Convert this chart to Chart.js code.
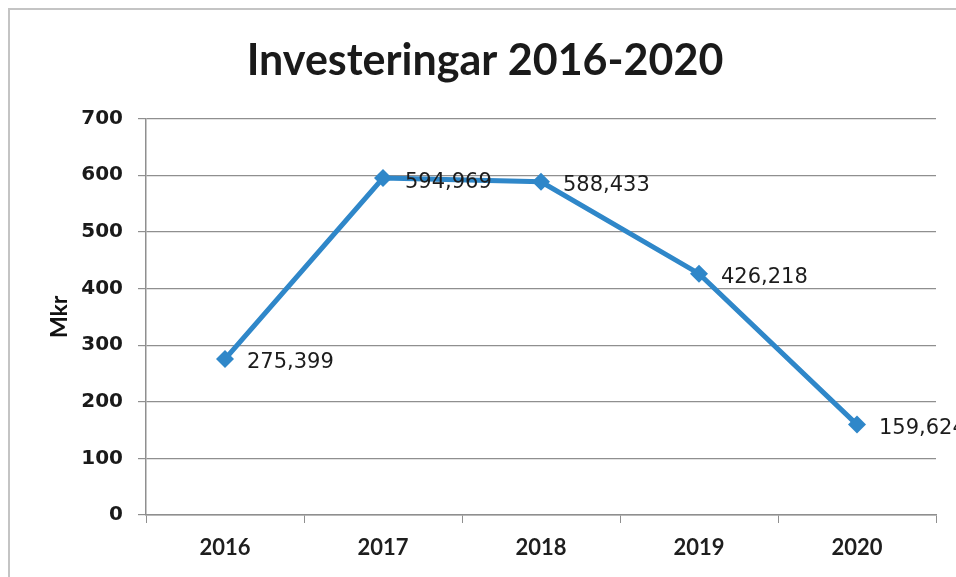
<!DOCTYPE html>
<html><head><meta charset="utf-8">
<script src="https://cdn.jsdelivr.net/npm/chart.js@4"></script>
<style>
html,body{margin:0;padding:0;background:#fff;}
#wrap{position:relative;width:956px;height:577px;overflow:hidden;}
#frame{position:absolute;left:8px;top:8px;width:960px;height:600px;border-top:2px solid #c4c4c4;border-left:2px solid #c4c4c4;}
canvas{position:absolute;left:0;top:0;}
</style></head>
<body><div id="wrap"><div id="frame"></div><canvas id="c" width="956" height="577"></canvas></div>
<script>
const categories = ['2016','2017','2018','2019','2020'];
const investeringar = [275.399, 594.969, 588.433, 426.218, 159.624];
const yTicks = [0,100,200,300,400,500,600,700];
const titleText = 'Investeringar 2016-2020';
const yTitle = 'Mkr';

const lineColor = '#2f87c9';

const labelPlugin = {
  id: 'pointLabels',
  afterDatasetsDraw(chart){
    const ctx = chart.ctx;
    const meta = chart.getDatasetMeta(0);
    ctx.save();
    ctx.font = '21px "DejaVu Sans"';
    ctx.fillStyle = '#1c1c1c';
    ctx.textBaseline = 'middle';
    ctx.textAlign = 'left';
    meta.data.forEach((pt, i) => {
      const txt = investeringar[i].toFixed(3).replace('.', ',');
      ctx.fillText(txt, pt.x + 22, pt.y + 4);
    });
    ctx.restore();
  }
};

new Chart(document.getElementById('c'), {
  type: 'line',
  data: {
    labels: categories,
    datasets: [{
      data: investeringar,
      borderColor: lineColor,
      backgroundColor: lineColor,
      borderWidth: 5,
      pointStyle: 'rectRot',
      pointRadius: 9,
      pointBorderWidth: 0,
      pointBackgroundColor: lineColor,
      tension: 0
    }]
  },
  options: {
    responsive: false,
    animation: false,
    layout: { padding: { top: 10, left: 34, right: 20, bottom: 0 } },
    plugins: {
      legend: { display: false },
      tooltip: { enabled: false },
      title: {
        display: true,
        text: titleText,
        color: '#1a1a1a',
        font: { family: 'Lato', size: 43, weight: 'bold' },
        padding: { top: 25, bottom: 32 }
      }
    },
    scales: {
      x: {
        offset: true,
        grid: { display: true, drawOnChartArea: false, tickLength: 8, color: '#8f8f8f', offset: true },
        border: { display: true, color: '#8f8f8f', width: 1.5 },
        ticks: { color: '#1e1e1e', font: { family: 'Lato', size: 22, weight: 'bold' }, padding: 12 },
        afterFit(s){ s.height = 62; }
      },
      y: {
        min: 0, max: 700,
        afterBuildTicks(s){ s.ticks = yTicks.map(v => ({value: v})); },
        grid: { color: '#8f8f8f', tickLength: 8, lineWidth: 1.2 },
        border: { display: true, color: '#8f8f8f', width: 1.5 },
        ticks: { color: '#1a1a1a', font: { family: 'DejaVu Sans', size: 20, weight: 'bold' }, padding: 15 },
        title: { display: true, text: yTitle, color: '#111', font: { family: 'Lato', size: 23, weight: 'bold' }, padding: { top: 12, bottom: 0 } },
        afterFit(s){ s.width = 112; }
      }
    }
  },
  plugins: [labelPlugin]
});
</script>
</body></html>
